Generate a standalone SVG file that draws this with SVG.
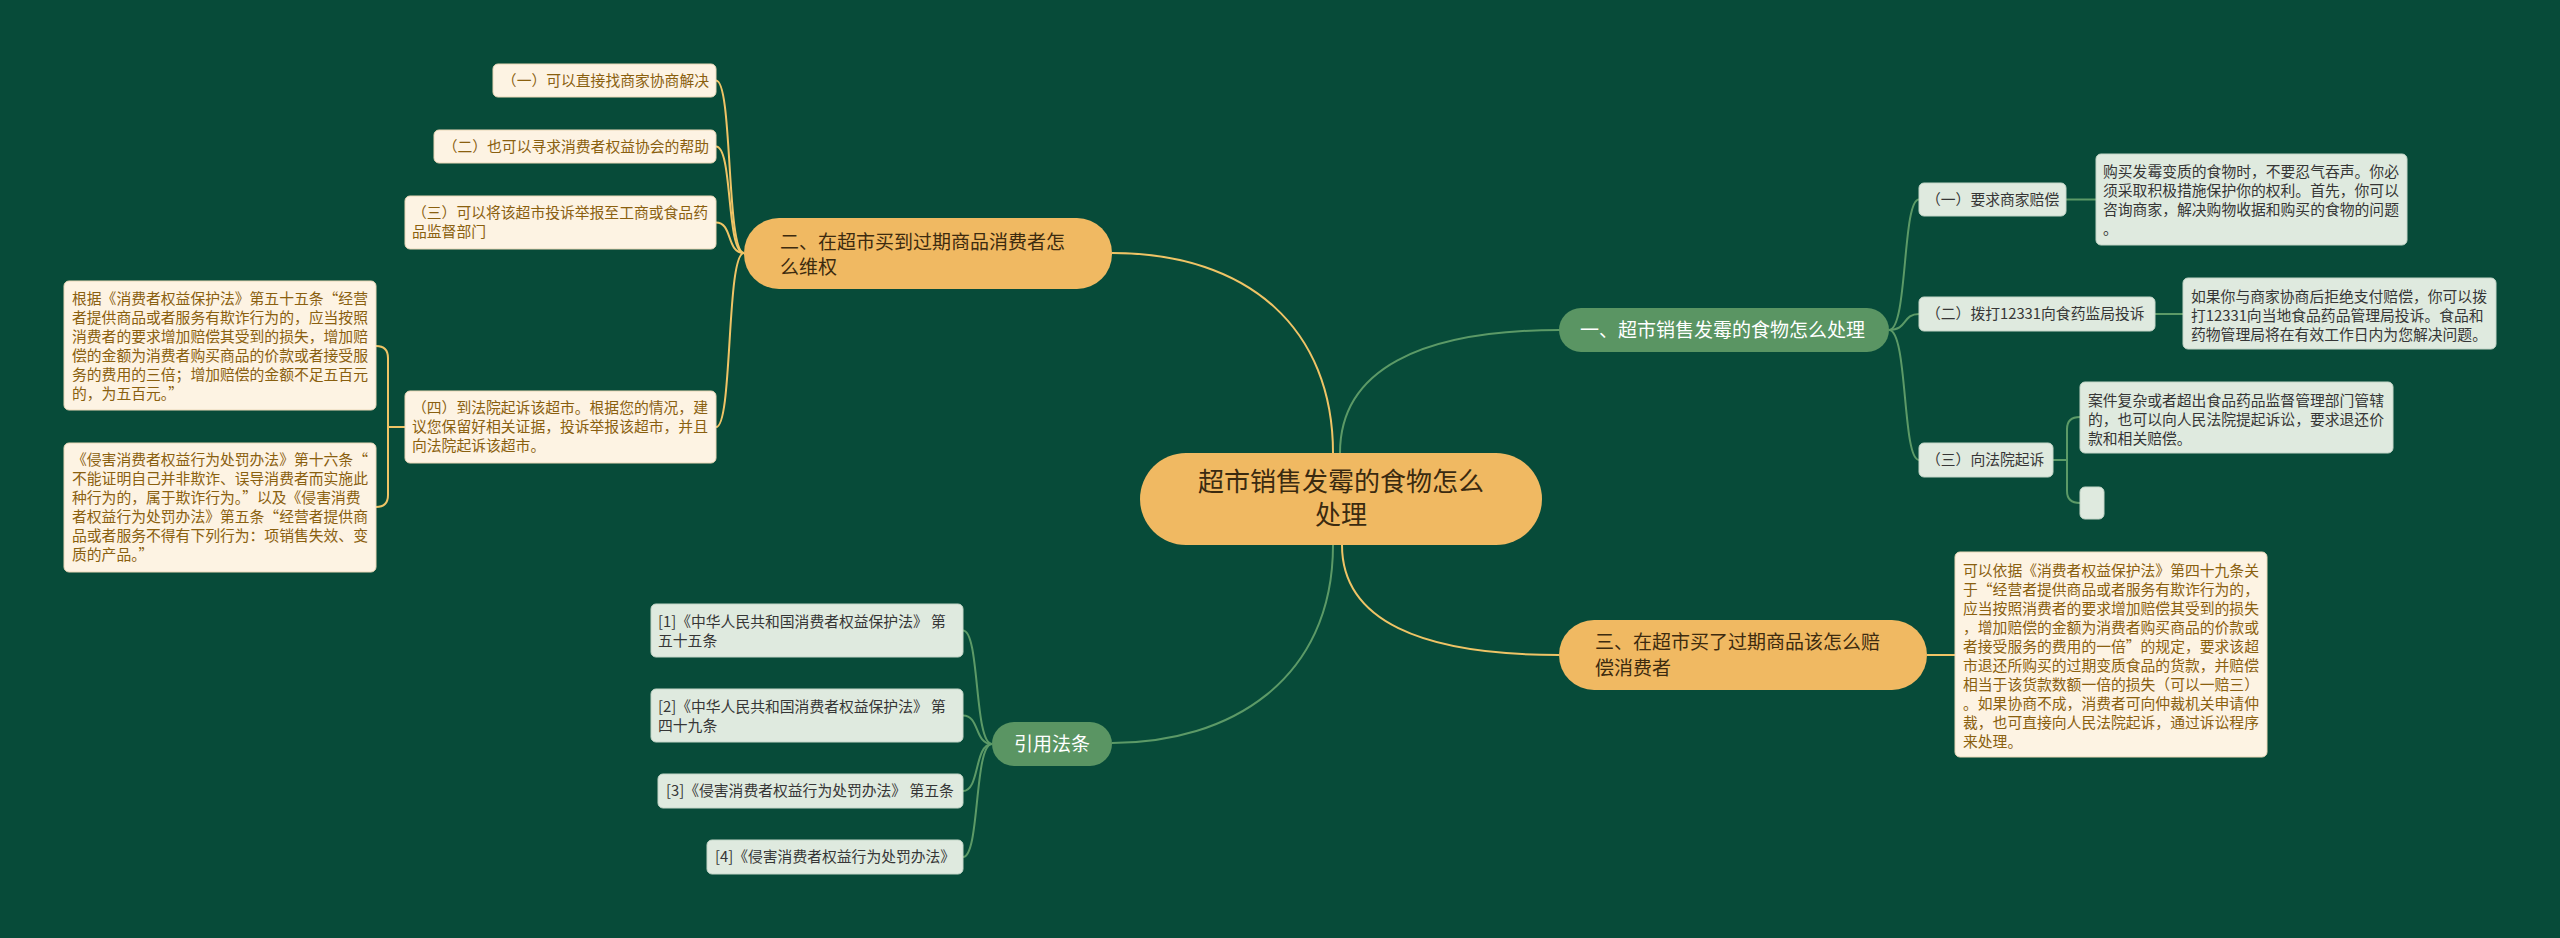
<svg xmlns="http://www.w3.org/2000/svg" width="2560" height="938" viewBox="0 0 2560 938">
<style>
text{font-family:"Noto Sans CJK SC","Noto Sans",sans-serif}
.root{fill:#f0b962}
.rt{font-size:26px;fill:#3a2a10;text-anchor:middle}
.yp{fill:#f0b962}
.yt{font-size:19px;fill:#3d2b0f}
.gp{fill:#5a9563}
.gt{font-size:19px;fill:#ffffff}
.lb{fill:#dfeadf;stroke:#c4d6c8;stroke-width:1}
.lt{font-size:14.8px;fill:#363636}
.cb{fill:#fdf3e3;stroke:#ead8b8;stroke-width:1}
.ct{font-size:14.8px;fill:#8a600f}
.yl{fill:none;stroke:#efc466;stroke-width:2}
.gl{fill:none;stroke:#5c9a67;stroke-width:2}
</style>
<rect width="2560" height="938" fill="#074b39"/>
<g id="connectors">
<path class="yl" d="M1112,253 C1250,253 1333,330 1333,453"/>
<path class="gl" d="M1340,453 C1340,370 1420,330 1560,330"/>
<path class="gl" d="M1333,545 C1333,680 1230,743 1112,743"/>
<path class="yl" d="M1342,545 C1342,620 1420,655 1559,655"/>
<path class="gl" d="M1889,330 C1908,330 1902,199.5 1919,199.5"/>
<path class="gl" d="M1889,330 C1908,330 1902,314 1919,314"/>
<path class="gl" d="M1889,330 C1908,330 1902,460 1919,460"/>
<path class="gl" d="M2066,199.5 L2096,199.5"/>
<path class="gl" d="M2155,314 L2183,314"/>
<path class="gl" d="M2053,460 L2067,460 M2080,417 Q2067,417 2067,429 L2067,491 Q2067,503 2080,503"/>
<path class="yl" d="M744,253 C726,253 733,80.5 716,80.5"/>
<path class="yl" d="M744,253 C726,253 733,146.5 716,146.5"/>
<path class="yl" d="M744,253 C726,253 733,222.5 716,222.5"/>
<path class="yl" d="M744,253 C726,253 733,427 716,427"/>
<path class="yl" d="M405,427 L388,427 M376,346 Q388,346 388,358 L388,495 Q388,507 376,507"/>
<path class="yl" d="M1927,655 L1955,655"/>
<path class="gl" d="M992,744 C974,744 980,630.5 963,630.5"/>
<path class="gl" d="M992,744 C974,744 980,715.5 963,715.5"/>
<path class="gl" d="M992,744 C974,744 980,791 963,791"/>
<path class="gl" d="M992,744 C974,744 980,857 963,857"/>
</g>
<g id="root">
<rect class="root" x="1140" y="453" width="402" height="92" rx="46"/>
<text class="rt" x="1341" y="491">超市销售发霉的食物怎么</text>
<text class="rt" x="1341" y="524">处理</text>
</g>
<g id="b1">
<rect class="gp" x="1559" y="308" width="330" height="44" rx="22"/>
<text class="gt" x="1580" y="337">一、超市销售发霉的食物怎么处理</text>
</g>
<g id="b1c1">
<rect class="lb" x="1919" y="183" width="147" height="33" rx="5"/>
<text class="lt" x="1926" y="205">（一）要求商家赔偿</text>
</g>
<g id="b1c1d">
<rect class="lb" x="2096" y="154" width="311" height="91" rx="5"/>
<text class="lt" x="2103" y="177">购买发霉变质的食物时，不要忍气吞声。你必</text>
<text class="lt" x="2103" y="196">须采取积极措施保护你的权利。首先，你可以</text>
<text class="lt" x="2103" y="215">咨询商家，解决购物收据和购买的食物的问题</text>
<text class="lt" x="2103" y="234">。</text>
</g>
<g id="b1c2">
<rect class="lb" x="1919" y="297" width="236" height="34" rx="5"/>
<text class="lt" x="1926" y="319">（二）拨打12331向食药监局投诉</text>
</g>
<g id="b1c2d">
<rect class="lb" x="2183" y="278" width="313" height="71" rx="5"/>
<text class="lt" x="2191" y="302">如果你与商家协商后拒绝支付赔偿，你可以拨</text>
<text class="lt" x="2191" y="321">打12331向当地食品药品管理局投诉。食品和</text>
<text class="lt" x="2191" y="340">药物管理局将在有效工作日内为您解决问题。</text>
</g>
<g id="b1c3">
<rect class="lb" x="1919" y="443" width="134" height="34" rx="5"/>
<text class="lt" x="1926" y="465">（三）向法院起诉</text>
</g>
<g id="b1c3d">
<rect class="lb" x="2080" y="382" width="313" height="71" rx="5"/>
<text class="lt" x="2088" y="406">案件复杂或者超出食品药品监督管理部门管辖</text>
<text class="lt" x="2088" y="425">的，也可以向人民法院提起诉讼，要求退还价</text>
<text class="lt" x="2088" y="444">款和相关赔偿。</text>
</g>
<g id="b1c3e">
<rect class="lb" x="2080" y="487" width="24" height="32" rx="5"/>
</g>
<g id="b2">
<rect class="yp" x="744" y="218" width="368" height="71" rx="35"/>
<text class="yt" x="780" y="249">二、在超市买到过期商品消费者怎</text>
<text class="yt" x="780" y="274">么维权</text>
</g>
<g id="b2c1">
<rect class="cb" x="493" y="64" width="223" height="33" rx="5"/>
<text class="ct" x="709" y="86" text-anchor="end">（一）可以直接找商家协商解决</text>
</g>
<g id="b2c2">
<rect class="cb" x="434" y="130" width="282" height="33" rx="5"/>
<text class="ct" x="709" y="152" text-anchor="end">（二）也可以寻求消费者权益协会的帮助</text>
</g>
<g id="b2c3">
<rect class="cb" x="405" y="196" width="311" height="53" rx="5"/>
<text class="ct" x="412" y="218">（三）可以将该超市投诉举报至工商或食品药</text>
<text class="ct" x="412" y="237">品监督部门</text>
</g>
<g id="b2c4">
<rect class="cb" x="405" y="391" width="311" height="72" rx="5"/>
<text class="ct" x="412" y="413">（四）到法院起诉该超市。根据您的情况，建</text>
<text class="ct" x="412" y="432">议您保留好相关证据，投诉举报该超市，并且</text>
<text class="ct" x="412" y="451">向法院起诉该超市。</text>
</g>
<g id="b2c4a">
<rect class="cb" x="64" y="281" width="312" height="129" rx="5"/>
<text class="ct" x="72" y="304">根据《消费者权益保护法》第五十五条“经营</text>
<text class="ct" x="72" y="323">者提供商品或者服务有欺诈行为的，应当按照</text>
<text class="ct" x="72" y="342">消费者的要求增加赔偿其受到的损失，增加赔</text>
<text class="ct" x="72" y="361">偿的金额为消费者购买商品的价款或者接受服</text>
<text class="ct" x="72" y="380">务的费用的三倍；增加赔偿的金额不足五百元</text>
<text class="ct" x="72" y="399">的，为五百元。”</text>
</g>
<g id="b2c4b">
<rect class="cb" x="64" y="443" width="312" height="129" rx="5"/>
<text class="ct" x="72" y="465">《侵害消费者权益行为处罚办法》第十六条“</text>
<text class="ct" x="72" y="484">不能证明自己并非欺诈、误导消费者而实施此</text>
<text class="ct" x="72" y="503">种行为的，属于欺诈行为。”以及《侵害消费</text>
<text class="ct" x="72" y="522">者权益行为处罚办法》第五条“经营者提供商</text>
<text class="ct" x="72" y="541">品或者服务不得有下列行为：项销售失效、变</text>
<text class="ct" x="72" y="560">质的产品。”</text>
</g>
<g id="b3">
<rect class="yp" x="1559" y="620" width="368" height="70" rx="35"/>
<text class="yt" x="1595" y="649">三、在超市买了过期商品该怎么赔</text>
<text class="yt" x="1595" y="675">偿消费者</text>
</g>
<g id="b3c1">
<rect class="cb" x="1955" y="552" width="312" height="205" rx="5"/>
<text class="ct" x="1963" y="576">可以依据《消费者权益保护法》第四十九条关</text>
<text class="ct" x="1963" y="595">于“经营者提供商品或者服务有欺诈行为的，</text>
<text class="ct" x="1963" y="614">应当按照消费者的要求增加赔偿其受到的损失</text>
<text class="ct" x="1963" y="633">，增加赔偿的金额为消费者购买商品的价款或</text>
<text class="ct" x="1963" y="652">者接受服务的费用的一倍”的规定，要求该超</text>
<text class="ct" x="1963" y="671">市退还所购买的过期变质食品的货款，并赔偿</text>
<text class="ct" x="1963" y="690">相当于该货款数额一倍的损失（可以一赔三）</text>
<text class="ct" x="1963" y="709">。如果协商不成，消费者可向仲裁机关申请仲</text>
<text class="ct" x="1963" y="728">裁，也可直接向人民法院起诉，通过诉讼程序</text>
<text class="ct" x="1963" y="747">来处理。</text>
</g>
<g id="b4">
<rect class="gp" x="992" y="722" width="120" height="44" rx="22"/>
<text class="gt" x="1052" y="751" text-anchor="middle">引用法条</text>
</g>
<g id="b4c1">
<rect class="lb" x="651" y="604" width="312" height="53" rx="5"/>
<text class="lt" x="658" y="627">[1]《中华人民共和国消费者权益保护法》 第</text>
<text class="lt" x="658" y="646">五十五条</text>
</g>
<g id="b4c2">
<rect class="lb" x="651" y="689" width="312" height="53" rx="5"/>
<text class="lt" x="658" y="712">[2]《中华人民共和国消费者权益保护法》 第</text>
<text class="lt" x="658" y="731">四十九条</text>
</g>
<g id="b4c3">
<rect class="lb" x="658" y="774" width="305" height="34" rx="5"/>
<text class="lt" x="666" y="796">[3]《侵害消费者权益行为处罚办法》 第五条</text>
</g>
<g id="b4c4">
<rect class="lb" x="707" y="840" width="256" height="34" rx="5"/>
<text class="lt" x="715" y="862">[4]《侵害消费者权益行为处罚办法》</text>
</g>
</svg>
